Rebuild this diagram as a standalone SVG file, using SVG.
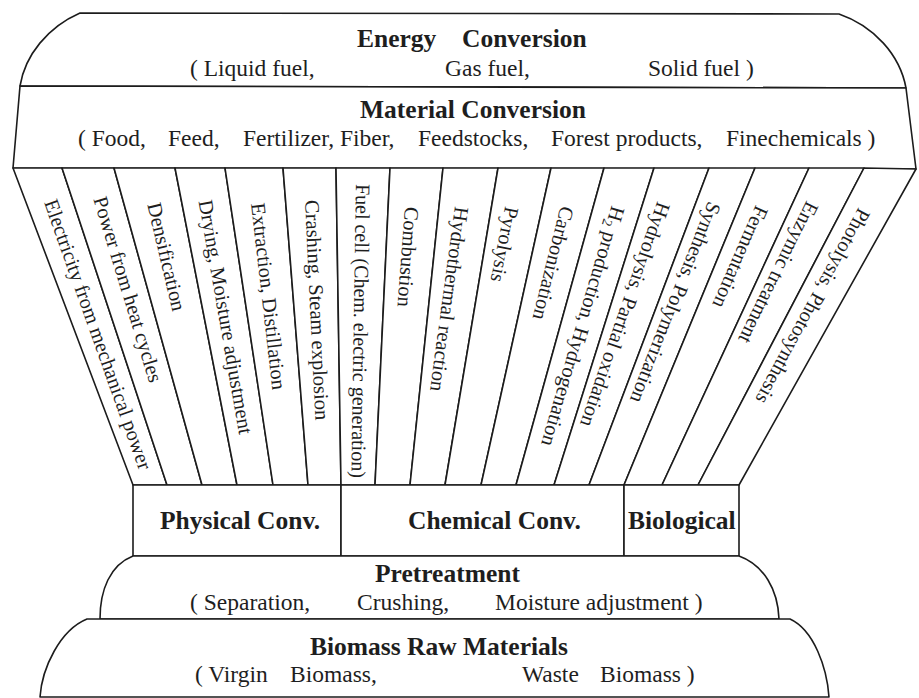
<svg xmlns="http://www.w3.org/2000/svg" width="919" height="698" viewBox="0 0 919 698">
<style>
.ln{fill:#fff;stroke:#1c1c1c;stroke-width:1.6;stroke-linejoin:round;stroke-linecap:round}
text{font-family:"Liberation Serif","Times New Roman",serif;fill:#1e1e1e}
.h{font-weight:bold;font-size:25.5px}
.s{font-size:23.5px}
.v{font-size:20.5px}
</style>
<rect width="919" height="698" fill="#fff"/>
<g id="energy">
<path class="ln" d="M20,86 C25,55 48,27 80,13 L839,14 C874,26 900,55 906,88 Z"/>
<text class="h" x="357" y="47">Energy</text>
<text class="h" x="462" y="47">Conversion</text>
<text class="s" x="190" y="76">( Liquid fuel,</text>
<text class="s" x="445" y="76">Gas fuel,</text>
<text class="s" x="648" y="76">Solid fuel )</text>
</g>
<g id="material">
<path class="ln" d="M20,86 L906,88 L916,169 L13,168 Z"/>
<text class="h" x="360" y="118">Material Conversion</text>
<text class="s" x="78" y="146">( Food,</text>
<text class="s" x="168" y="146">Feed,</text>
<text class="s" x="243" y="146">Fertilizer, Fiber,</text>
<text class="s" x="418" y="146">Feedstocks,</text>
<text class="s" x="551" y="146">Forest products,</text>
<text class="s" x="726" y="146">Finechemicals )</text>
</g>
<g id="strip1"><polygon class="ln" points="13,168 62,168 167,485 133,485"/><text class="v" transform="translate(50.5,200) rotate(70.46)" y="7">Electricity from mechanical power</text></g>
<g id="strip2"><polygon class="ln" points="62,168 114,168 202,485 167,485"/><text class="v" transform="translate(100,197) rotate(73.07)" y="7">Power from heat cycles</text></g>
<g id="strip3"><polygon class="ln" points="114,168 175,168 237,485 202,485"/><text class="v" transform="translate(154,203) rotate(76.69)" y="7">Densification</text></g>
<g id="strip4"><polygon class="ln" points="175,168 225,168 273,485 237,485"/><text class="v" transform="translate(205.5,200) rotate(80.16)" y="7">Drying, Moisture adjustment</text></g>
<g id="strip5"><polygon class="ln" points="225,168 283,168 308,485 273,485"/><text class="v" transform="translate(258,203) rotate(83.43)" y="7">Extraction, Distillation</text></g>
<g id="strip6"><polygon class="ln" points="283,168 336,168 341,485 308,485"/><text class="v" transform="translate(312,200) rotate(87.29)" y="7">Crashing, Steam explosion</text></g>
<g id="strip7"><polygon class="ln" points="336,168 390,168 375,485 341,485"/><text class="v" transform="translate(363,184) rotate(90.9)" y="7" textLength="294" lengthAdjust="spacingAndGlyphs">Fuel cell (Chem. electric generation)</text></g>
<g id="strip8"><polygon class="ln" points="390,168 443,168 410,485 375,485"/><text class="v" transform="translate(412,207) rotate(94.33)" y="7">Combustion</text></g>
<g id="strip9"><polygon class="ln" points="443,168 498,168 445,485 410,485"/><text class="v" transform="translate(462,207) rotate(97.72)" y="7">Hydrothermal reaction</text></g>
<g id="strip10"><polygon class="ln" points="498,168 551,168 481,485 445,485"/><text class="v" transform="translate(512,207) rotate(100.98)" y="7">Pyrolysis</text></g>
<g id="strip11"><polygon class="ln" points="551,168 604,168 516,485 481,485"/><text class="v" transform="translate(567.5,207) rotate(103.99)" y="7">Carbonization</text></g>
<g id="strip12"><polygon class="ln" points="604,168 654,168 554,485 516,485"/><text class="v" transform="translate(618.5,207) rotate(106.52)" y="7">H<tspan font-size="14" dy="4">2</tspan><tspan dy="-4"> production, Hydrogenation</tspan></text></g>
<g id="strip13"><polygon class="ln" points="654,168 709,168 589,485 554,485"/><text class="v" transform="translate(664,203) rotate(109.13)" y="7">Hydrolysis, Partial oxidation</text></g>
<g id="strip14"><polygon class="ln" points="709,168 755,168 624,485 589,485"/><text class="v" transform="translate(715,203) rotate(111.6)" y="7">Synthesis, Polymerization</text></g>
<g id="strip15"><polygon class="ln" points="755,168 809,168 662,485 624,485"/><text class="v" transform="translate(762.5,207) rotate(113.68)" y="7">Fermentation</text></g>
<g id="strip16"><polygon class="ln" points="809,168 864,168 698,485 662,485"/><text class="v" transform="translate(813,203) rotate(116.28)" y="7">Enzymic treatment</text></g>
<g id="strip17"><polygon class="ln" points="864,168 916,169 739,485 698,485"/><text class="v" transform="translate(865,210) rotate(118.35)" y="7">Photolysis, Photosynthesis</text></g>
<g id="physical"><rect class="ln" x="133" y="485" width="208" height="71"/><text class="h" x="160" y="529">Physical Conv.</text></g>
<g id="chemical"><rect class="ln" x="341" y="485" width="283" height="71"/><text class="h" x="408" y="529">Chemical Conv.</text></g>
<g id="biological"><rect class="ln" x="624" y="485" width="115" height="71"/><text class="h" x="628" y="529">Biological</text></g>
<g id="pretreatment">
<path class="ln" d="M133,556 L739,556 C764,565 778,590 779,619 L100,619 C100,590 110,565 133,556 Z"/>
<text class="h" x="375" y="582">Pretreatment</text>
<text class="s" x="190" y="610">( Separation,</text>
<text class="s" x="357" y="610">Crushing,</text>
<text class="s" x="495" y="610">Moisture adjustment )</text>
</g>
<g id="biomass">
<path class="ln" d="M87,619 L790,619 C814,630 827,668 829,697 L40,697 C42,668 60,630 87,619 Z"/>
<text class="h" x="310" y="655">Biomass Raw Materials</text>
<text class="s" x="195" y="682">( Virgin</text>
<text class="s" x="290" y="682">Biomass,</text>
<text class="s" x="522" y="682">Waste</text>
<text class="s" x="600" y="682">Biomass )</text>
</g>
<g id="connectors"/>
</svg>
